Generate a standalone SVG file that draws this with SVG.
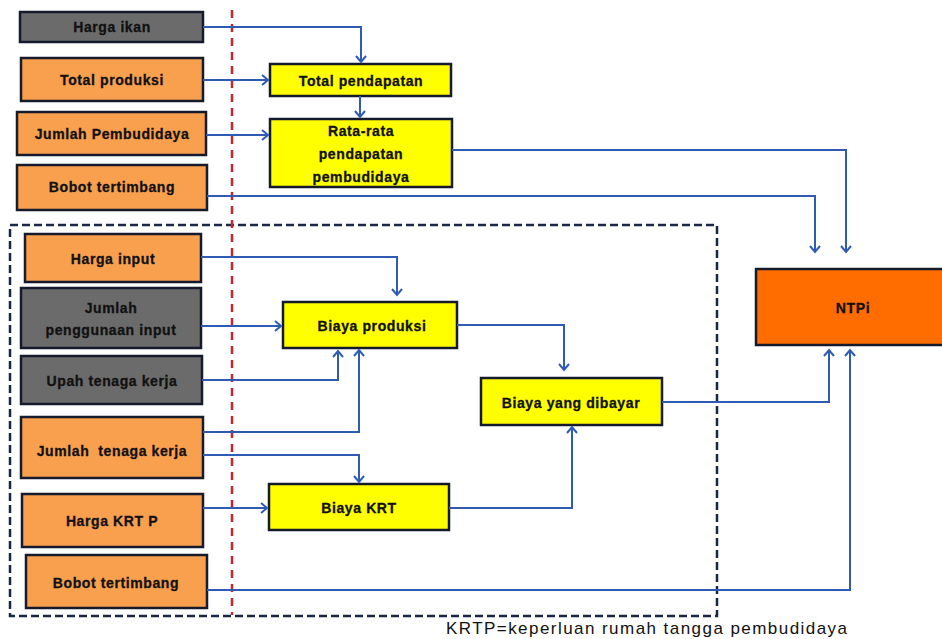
<svg xmlns="http://www.w3.org/2000/svg" width="942" height="639" viewBox="0 0 942 639">
<style>
.box{stroke:#151a2c;stroke-width:2.5}
.gray{fill:#6b6b6b}
.org{fill:#f9a04f}
.yel{fill:#ffff00}
.ntp{fill:#ff6d00}
.t{font-family:"Liberation Sans",Arial,sans-serif;font-weight:bold;font-size:14px;fill:#111;stroke:#111;stroke-width:0.3;text-anchor:middle;dominant-baseline:central;letter-spacing:0.6px}
.c{fill:none;stroke:#2f5bb5;stroke-width:2}
</style>
<defs>
<marker id="ah" markerUnits="userSpaceOnUse" markerWidth="12" markerHeight="12" refX="7" refY="6" orient="auto">
<path d="M1,1 L7,6 L1,11" fill="none" stroke="#2f5bb5" stroke-width="2"/>
</marker>
</defs>
<rect x="0" y="0" width="942" height="639" fill="#ffffff"/>
<rect x="10" y="225" width="707" height="391" fill="none" stroke="#1a2646" stroke-width="2.5" stroke-dasharray="8 4"/>
<line x1="232" y1="10" x2="232" y2="615" stroke="#c0282d" stroke-width="2.5" stroke-dasharray="8 6"/>

<g id="harga-ikan"><rect class="box gray" x="20" y="12" width="183" height="30"/><text class="t" x="112" y="27" letter-spacing="0">Harga ikan</text></g>
<g id="total-produksi"><rect class="box org" x="21" y="58" width="182" height="43"/><text class="t" x="112" y="80">Total produksi</text></g>
<g id="jumlah-pembudidaya"><rect class="box org" x="17" y="112" width="189" height="43"/><text class="t" x="112" y="134">Jumlah Pembudidaya</text></g>
<g id="bobot-tertimbang-1"><rect class="box org" x="17" y="165" width="190" height="45"/><text class="t" x="112" y="187">Bobot tertimbang</text></g>
<g id="total-pendapatan"><rect class="box yel" x="270" y="64" width="181" height="32"/><text class="t" x="361" y="81">Total pendapatan</text></g>
<g id="rata-rata"><rect class="box yel" x="270" y="119" width="182" height="68"/><text class="t" x="361" y="131">Rata-rata</text><text class="t" x="361" y="154">pendapatan</text><text class="t" x="361" y="177">pembudidaya</text></g>
<g id="harga-input"><rect class="box org" x="25" y="234" width="176" height="48"/><text class="t" x="113" y="259">Harga input</text></g>
<g id="jumlah-penggunaan-input"><rect class="box gray" x="21" y="288" width="180" height="60"/><text class="t" x="111" y="308">Jumlah</text><text class="t" x="111" y="330">penggunaan input</text></g>
<g id="upah-tenaga-kerja"><rect class="box gray" x="21" y="356" width="181" height="48"/><text class="t" x="112" y="381">Upah tenaga kerja</text></g>
<g id="jumlah-tenaga-kerja"><rect class="box org" x="21" y="417" width="182" height="61"/><text class="t" x="112" y="451" xml:space="preserve">Jumlah  tenaga kerja</text></g>
<g id="harga-krtp"><rect class="box org" x="22" y="494" width="181" height="53"/><text class="t" x="112" y="521">Harga KRT P</text></g>
<g id="bobot-tertimbang-2"><rect class="box org" x="26" y="555" width="181" height="53"/><text class="t" x="116" y="583">Bobot tertimbang</text></g>
<g id="biaya-produksi"><rect class="box yel" x="283" y="302" width="174" height="46"/><text class="t" x="372" y="326">Biaya produksi</text></g>
<g id="biaya-krt"><rect class="box yel" x="269" y="484" width="180" height="46"/><text class="t" x="359" y="508">Biaya KRT</text></g>
<g id="biaya-dibayar"><rect class="box yel" x="481" y="378" width="181" height="47"/><text class="t" x="571" y="403">Biaya yang dibayar</text></g>
<g id="ntpi"><rect class="box ntp" x="756" y="269" width="190" height="76"/><text class="t" x="853" y="308">NTPi</text></g>

<g id="connectors">
<path class="c" d="M203,27 H361 V62" marker-end="url(#ah)"/>
<path class="c" d="M203,80 H268" marker-end="url(#ah)"/>
<path class="c" d="M206,135 H268" stroke="#6f9ad8" stroke-width="3" marker-end="url(#ah)"/>
<path class="c" d="M360,96 V117" marker-end="url(#ah)"/>
<path class="c" d="M452,150 H846 V252" marker-end="url(#ah)"/>
<path class="c" d="M207,196 H815 V252" marker-end="url(#ah)"/>
<path class="c" d="M201,257 H397 V295" marker-end="url(#ah)"/>
<path class="c" d="M201,326 H281" marker-end="url(#ah)"/>
<path class="c" d="M202,380 H338 V351" marker-end="url(#ah)"/>
<path class="c" d="M203,432 H359 V350" marker-end="url(#ah)"/>
<path class="c" d="M203,455 H359 V482" marker-end="url(#ah)"/>
<path class="c" d="M203,508 H267" marker-end="url(#ah)"/>
<path class="c" d="M457,325 H564 V370" marker-end="url(#ah)"/>
<path class="c" d="M449,508 H572 V427" marker-end="url(#ah)"/>
<path class="c" d="M662,402 H829 V350" marker-end="url(#ah)"/>
<path class="c" d="M207,590 H850 V350" marker-end="url(#ah)"/>
</g>
<text x="446" y="634" font-family="Liberation Sans,Arial,sans-serif" font-size="17" fill="#111" textLength="401" lengthAdjust="spacing">KRTP=keperluan rumah tangga pembudidaya</text>
</svg>
